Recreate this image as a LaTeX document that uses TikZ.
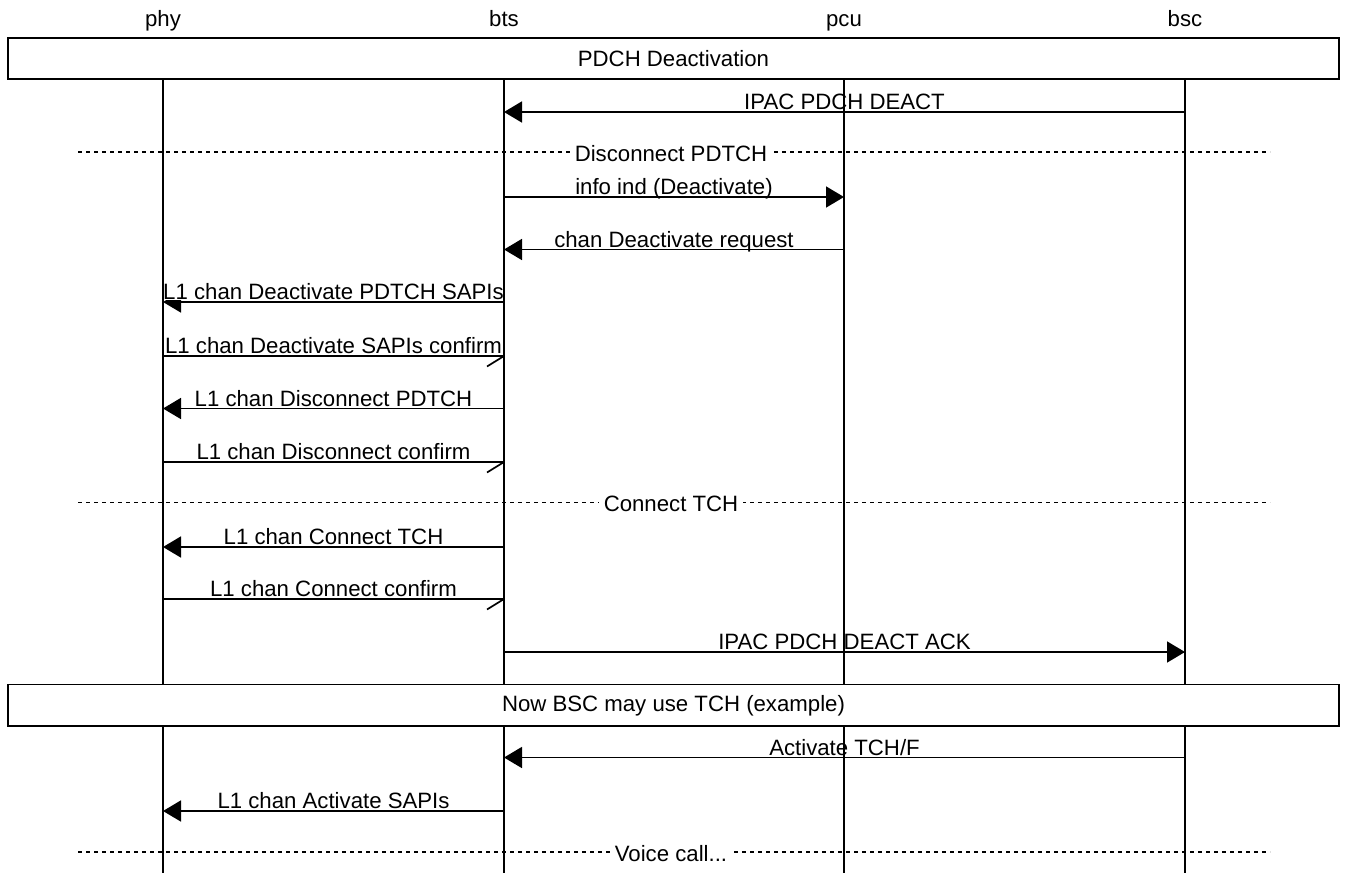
\documentclass[tikz,border=0pt]{standalone}
\usepackage{fontspec}
\setmainfont{Liberation Sans}
\usetikzlibrary{arrows.meta}
\tikzset{
  lifeline/.style={line width=1.8pt},
  msgline/.style={line width=1.7pt},
  fullhead/.style={msgline,-{Triangle[length=18pt,width=21pt]}},
  lbl/.style={fill=white,inner sep=0pt,text depth=0pt,anchor=base,yshift=2.5pt},
  hdr/.style={inner sep=0pt,anchor=base},
  sepline/.style={line width=1.4pt,dash pattern=on 4pt off 4pt},
  seplbl/.style={fill=white,inner xsep=5pt,inner ysep=1pt,anchor=base},
  boxnode/.style={draw,line width=1.8pt,inner sep=0pt,minimum width=1331pt,minimum height=41pt}
}
\newcommand\mscfull[5]{% name, x1, x2, y, label
  \coordinate (#1s) at (#2,#4); \coordinate (#1e) at (#3,#4);
  \draw[fullhead] (#1s) -- (#1e) node[midway,lbl] {#5};
}
\newcommand\mschalf[5]{% name, x1, x2, y, label
  \coordinate (#1s) at (#2,#4); \coordinate (#1e) at (#3,#4);
  \draw[msgline] (#1s) -- (#1e) node[midway,lbl] {#5};
  \draw[msgline] (#1e) -- ++(-17,10.5);
}
\newcommand\mscsep[4]{% name, y, label, label x
  \coordinate (#1l) at (78,#2); \coordinate (#1r) at (1270,#2);
  \draw[sepline] (#1l) -- (#1r);
  \node[seplbl] (#1t) at (#4,#2+9) {#3};
}
\begin{document}
\begin{tikzpicture}[x=1pt,y=-1pt]
\fontsize{22.2}{26}\selectfont
\useasboundingbox (0,0) rectangle (1346,873);
% headers
\node[hdr] (hphy) at (163,26.7) {phy};
\node[hdr] (hbts) at (504,26.7) {bts};
\node[hdr] (hpcu) at (844,26.7) {pcu};
\node[hdr] (hbsc) at (1185,26.7) {bsc};
% boxes
\node[boxnode] (box1) at (673.5,58.5) {PDCH Deactivation};
\node[boxnode,minimum height=41.5pt] (box2) at (673.5,705.25) {Now BSC may use TCH (example)};
% messages
\mscfull{m1}{1185}{504}{112}{IPAC PDCH DEACT}
\mscsep{s1}{152}{Disconnect PDTCH}{671}
\mscfull{m2}{504}{844}{197}{info ind (Deactivate)}
\mscfull{m3}{844}{504}{249.5}{chan Deactivate request}
\mscfull{m4}{504}{163}{302}{L1 chan Deactivate PDTCH SAPIs}
\mschalf{m5}{163}{504}{356}{L1 chan Deactivate SAPIs confirm}
\mscfull{m6}{504}{163}{408.5}{L1 chan Disconnect PDTCH}
\mschalf{m7}{163}{504}{462}{L1 chan Disconnect confirm}
\mscsep{s2}{502.5}{Connect TCH}{671}
\mscfull{m8}{504}{163}{547}{L1 chan Connect TCH}
\mschalf{m9}{163}{504}{599}{L1 chan Connect confirm}
\mscfull{m10}{504}{1185}{652}{IPAC PDCH DEACT ACK}
\mscfull{m11}{1185}{504}{757.5}{Activate TCH/F}
\mscfull{m12}{504}{163}{811}{L1 chan Activate SAPIs}
\mscsep{s3}{852}{Voice call...}{671}
% lifelines
\foreach \n/\x in {phy/163,bts/504,pcu/844,bsc/1185}{
  \coordinate (\n A) at (\x,79); \coordinate (\n B) at (\x,684.5);
  \coordinate (\n C) at (\x,726); \coordinate (\n D) at (\x,873);
  \draw[lifeline] (\n A) -- (\n B);
  \draw[lifeline] (\n C) -- (\n D);
}
\end{tikzpicture}
\end{document}
